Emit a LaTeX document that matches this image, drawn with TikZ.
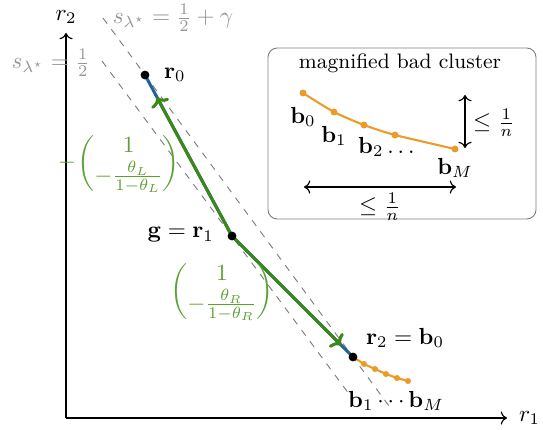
\documentclass[tikz,border=0pt]{standalone}
\usepackage{amsmath}
\usetikzlibrary{arrows.meta}
\definecolor{myblue}{RGB}{31,100,150}
\definecolor{mygreen}{RGB}{60,135,25}
\definecolor{labgreen}{RGB}{90,160,50}
\definecolor{myorange}{RGB}{235,155,40}
\definecolor{dashgray}{RGB}{125,125,125}
\definecolor{labgray}{RGB}{150,150,150}
\begin{document}
\begin{tikzpicture}[x=0.43pt,y=-0.43pt,
  axis/.style={->,line width=0.5pt},
  levelline/.style={dashgray,dashed,line width=0.4pt},
  levellab/.style={labgray,inner sep=1pt},
  blackdot/.style={circle,fill=black,inner sep=0pt,minimum size=3.8pt},
  orangedot/.style={circle,fill=myorange,inner sep=0pt,minimum size=2.6pt},
  insetdot/.style={circle,fill=myorange,inner sep=0pt,minimum size=3pt},
  pathline/.style={myblue,line width=1.3pt},
  steparrow/.style={mygreen,line width=1.3pt,-{To[length=3.5pt,width=8.5pt]}},
  veclab/.style={labgreen,inner sep=0pt},
  clusterline/.style={myorange,line width=0.9pt},
  insetbox/.style={draw=gray,line width=0.4pt,rounded corners=4pt},
  measure/.style={<->,line width=0.5pt}]
\useasboundingbox (0,0) rectangle (543,429);

% axes
\coordinate (O) at (66,418);
\coordinate (ytip) at (66,33);
\coordinate (xtip) at (507,418);
\draw[axis] (O) -- (ytip);
\draw[axis] (O) -- (xtip);
\node (ylab) at (66,17) {$r_2$};
\node[anchor=west] (xlab) at (511,418) {$r_1$};

% level lines
\coordinate (l1a) at (102,61);
\coordinate (l1b) at (350.5,396);
\coordinate (l2a) at (103,18);
\coordinate (l2b) at (390.5,408);
\draw[levelline] (l1a) -- (l1b);
\draw[levelline] (l2a) -- (l2b);
\node[levellab,anchor=east] (s1) at (93,63) {$s_{\lambda^\star} = \frac{1}{2}$};
\node[levellab,anchor=west] (s2) at (110,18) {$s_{\lambda^\star} = \frac{1}{2}+\gamma$};

% points
\coordinate (p0) at (145,75);
\coordinate (p1) at (232,236);
\coordinate (p2) at (353,357);
\coordinate (t0) at (157,97.5);
\coordinate (t2) at (341,345);

% bad cluster in main plot
\coordinate (q1) at (364,364);
\coordinate (q2) at (375,369);
\coordinate (q3) at (386,374);
\coordinate (q4) at (397,378);
\coordinate (q5) at (408,381);
\draw[clusterline] (p2) -- (q1) -- (q2) -- (q3) -- (q4) -- (q5);
\foreach \q in {q1,q2,q3,q4,q5} \node[orangedot] (d\q) at (\q) {};

\draw[pathline] (p0) -- (p1) -- (p2);
\draw[steparrow] (p1) -- (t0);
\draw[steparrow] (p1) -- (t2);

\node[blackdot] (r0) at (p0) {};
\node[blackdot] (r1) at (p1) {};
\node[blackdot] (r2) at (p2) {};

\node[anchor=west] (r0lab) at (156,75) {$\mathbf{r}_0$};
\node[anchor=east] (r1lab) at (222,235) {$\mathbf{g} = \mathbf{r}_1$};
\node[anchor=west] (r2lab) at (358,338) {$\mathbf{r}_2 = \mathbf{b}_0$};
\node[anchor=west] (bmlab) at (340,401) {$\mathbf{b}_1 \cdots \mathbf{b}_M$};

\node[veclab] (vL) at (119,163) {$-\mkern-2mu\begin{pmatrix}1\\ -\frac{\theta_L}{1-\theta_L}\end{pmatrix}$};
\node[veclab] (vR) at (222,291) {$\begin{pmatrix}1\\ -\frac{\theta_R}{1-\theta_R}\end{pmatrix}$};

% inset
\draw[insetbox] (268,48) rectangle (536,219);
\node (title) at (400,63) {\small magnified bad cluster};
\coordinate (c0) at (303,93);
\coordinate (c1) at (334,112);
\coordinate (c2) at (364,125);
\coordinate (c3) at (395,135);
\coordinate (c4) at (455,149);
\draw[clusterline] plot[smooth,tension=0.4] coordinates {(c0) (c1) (c2) (c3) (c4)};
\foreach \c in {c0,c1,c2,c3,c4} \node[insetdot] (e\c) at (\c) {};
\node (b0lab) at (303,117) {$\mathbf{b}_0$};
\node (b1lab) at (334,136) {$\mathbf{b}_1$};
\node[anchor=west] (b2lab) at (350,147) {$\mathbf{b}_2\dots$};
\node (bMlab) at (455,168) {$\mathbf{b}_M$};
\coordinate (va) at (465,95);
\coordinate (vb) at (465,148);
\draw[measure] (va) -- (vb);
\node (vlab) at (494,123) {$\leq \frac{1}{n}$};
\coordinate (ha) at (304,187);
\coordinate (hb) at (456,187);
\draw[measure] (ha) -- (hb);
\node (hlab) at (380,207) {$\leq \frac{1}{n}$};
\end{tikzpicture}
\end{document}
